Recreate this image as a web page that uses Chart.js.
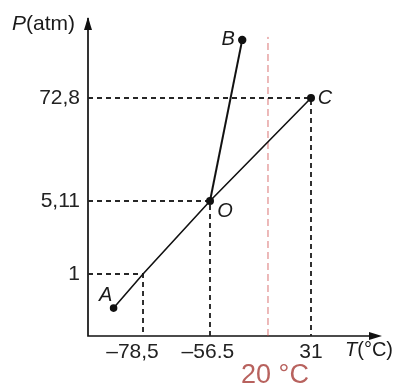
<!DOCTYPE html>
<html>
<head>
<meta charset="utf-8">
<title>Diagramme de phase du CO2</title>
<script src="https://cdn.jsdelivr.net/npm/chart.js@4/dist/chart.umd.min.js"></script>
<style>
	html, body { margin: 0; padding: 0; background: #fff; }
	#wrap { width: 397px; height: 387px; }
</style>
</head>
<body>
<div id="wrap"><canvas id="phase"></canvas></div>
<script>
'use strict';

// A, point triple O, point critique C, B sur la courbe de fusion
const pointNames = ['A', 'O', 'C', 'B'];
const pointTemps = [-90, -56.5, 31, -14];
const pointPress = [0.45, 5.11, 72.8, 170];

// valeurs marquées sur les axes
const tempTicks = [-78.5, -56.5, 31];
const tempLabels = ['–78,5', '–56.5', '31'];
const pressTicks = [1, 5.11, 72.8];
const pressLabels = ['1', '5,11', '72,8'];

// ligne des 20 °C
const roomTemp = 20;
const roomTop = 175;

const xMin = -100, xMax = 70;
const yMin = 0, yMax = 200;

// axes pas à l'échelle : valeur -> fraction de la longueur, linéaire entre les cassures
const axisBreaks = {
	x: [[xMin, 0], [-78.5, 0.1884], [-56.5, 0.4178], [20, 0.6164], [31, 0.7637], [xMax, 1]],
	y: [[yMin, 0], [1, 0.1975], [5.11, 0.430], [72.8, 0.758], [yMax, 1]]
};

function interp(list, v, from, to){
	for(let i = 1; i < list.length; i++){
		if(v <= list[i][from] || i == list.length - 1){
			let a = list[i - 1], b = list[i];
			return a[to] + (v - a[from]) / (b[from] - a[from]) * (b[to] - a[to]);
		}
	}
}

class BrokenScale extends Chart.LinearScale{
	getPixelForValue(value){
		return this.getPixelForDecimal(interp(axisBreaks[this.id], value, 0, 1));
	}
	getValueForPixel(pixel){
		return interp(axisBreaks[this.id], this.getDecimalForPixel(pixel), 1, 0);
	}
}
BrokenScale.id = 'broken';
BrokenScale.defaults = Chart.LinearScale.defaults;
Chart.register(BrokenScale);

function pt(i){
	return {x: pointTemps[i], y: pointPress[i]};
}

// pointillés vers les axes
let guides = tempTicks.map((t, i) => ({
	data: [{x: xMin, y: pressTicks[i]}, {x: t, y: pressTicks[i]}, {x: t, y: yMin}],
	borderColor: '#262626',
	borderWidth: 1.9,
	borderDash: [5, 4],
	pointRadius: 0
}));

let datasets = [
	{
		// sublimation puis vaporisation : A -> O -> C
		data: [pt(0), {x: tempTicks[0], y: pressTicks[0]}, pt(1), pt(2)],
		borderColor: '#111',
		backgroundColor: '#111',
		borderWidth: 1.6,
		pointRadius: [3, 0, 3.2, 3.2]
	},
	{
		// fusion : O -> B
		data: [pt(1), pt(3)],
		borderColor: '#111',
		backgroundColor: '#111',
		borderWidth: 2,
		pointRadius: [0, 3.2]
	},
	...guides,
	{
		data: [{x: roomTemp, y: yMin}, {x: roomTemp, y: roomTop}],
		borderColor: 'rgba(205, 70, 70, 0.75)',
		borderWidth: 1,
		borderDash: [7, 4],
		pointRadius: 0
	}
];

function arrow(ctx, x, y, dx, dy){
	let len = 13, half = 4;
	ctx.beginPath();
	ctx.moveTo(x, y);
	ctx.lineTo(x - dx * len - dy * half, y - dy * len + dx * half);
	ctx.lineTo(x - dx * len + dy * half, y - dy * len - dx * half);
	ctx.closePath();
	ctx.fill();
}

const labelOffsets = [[-8, -13], [15, 10], [14, 0], [-14, 0]];

const decorations = {
	id: 'decorations',
	beforeDatasetsDraw(chart){
		let ctx = chart.ctx, area = chart.chartArea;
		ctx.save();
		ctx.strokeStyle = '#111';
		ctx.fillStyle = '#111';
		ctx.lineWidth = 1.7;
		ctx.beginPath();
		ctx.moveTo(area.left, area.top - 4);
		ctx.lineTo(area.left, area.bottom);
		ctx.lineTo(area.right - 4, area.bottom);
		ctx.stroke();
		arrow(ctx, area.left, area.top - 5, 0, -1);
		arrow(ctx, area.right + 2, area.bottom, 1, 0);
		ctx.restore();
	},
	afterDraw(chart){
		let ctx = chart.ctx, area = chart.chartArea;
		let xs = chart.scales.x, ys = chart.scales.y;
		ctx.save();
		ctx.fillStyle = '#1a1a1a';
		ctx.textBaseline = 'middle';

		// noms des points
		ctx.font = 'italic 20px "Liberation Sans"';
		ctx.textAlign = 'center';
		for(let i = 0; i < pointNames.length; i++){
			let px = xs.getPixelForValue(pointTemps[i]) + labelOffsets[i][0];
			let py = ys.getPixelForValue(pointPress[i]) + labelOffsets[i][1];
			ctx.fillText(pointNames[i], px, py);
		}

		// titres des axes
		ctx.textAlign = 'left';
		let x = area.left - 76;
		ctx.font = 'italic 21px "Liberation Sans"';
		ctx.fillText('P', x, area.top + 2);
		x += ctx.measureText('P').width;
		ctx.font = '21px "Liberation Sans"';
		ctx.fillText('(atm)', x, area.top + 2);

		x = area.right - 35;
		ctx.font = 'italic 20px "Liberation Sans"';
		ctx.fillText('T', x, area.bottom + 14);
		x += ctx.measureText('T').width;
		ctx.font = '20px "Liberation Sans"';
		ctx.fillText('(°C)', x, area.bottom + 14);

		// 20 °C
		ctx.fillStyle = '#b8625e';
		ctx.textAlign = 'center';
		ctx.font = '27px "Liberation Sans"';
		ctx.fillText(roomTemp + ' °C', xs.getPixelForValue(roomTemp) + 7, area.bottom + 40);
		ctx.restore();
	}
};

// le signe moins déborde à gauche de la graduation
const tickShift = ['\u2002\u2002', '\u2009', ''];

new Chart(document.getElementById('phase'), {
	type: 'line',
	data: {datasets: datasets},
	plugins: [decorations],
	options: {
		responsive: true,
		maintainAspectRatio: false,
		animation: false,
		layout: {padding: {top: 22, right: 17, bottom: 0, left: 0}},
		plugins: {legend: {display: false}, tooltip: {enabled: false}},
		elements: {line: {tension: 0}},
		scales: {
			x: {
				type: 'broken',
				min: xMin,
				max: xMax,
				grid: {display: false, drawTicks: false},
				border: {display: false},
				afterBuildTicks: (scale) => { scale.ticks = tempTicks.map(v => ({value: v})); },
				afterFit: (scale) => { scale.height = 51; scale.paddingLeft = 0; scale.paddingRight = 0; },
				ticks: {
					autoSkip: false, maxRotation: 0, padding: 4, color: '#222',
					font: {family: 'Liberation Sans', size: 21},
					callback: (v, i) => tempLabels[i] + tickShift[i]
				}
			},
			y: {
				type: 'broken',
				min: yMin,
				max: yMax,
				grid: {display: false, drawTicks: false},
				border: {display: false},
				afterBuildTicks: (scale) => { scale.ticks = pressTicks.map(v => ({value: v})); },
				afterFit: (scale) => { scale.width = 88; scale.paddingTop = 0; scale.paddingBottom = 0; },
				ticks: {
					autoSkip: false, padding: 8, color: '#222',
					font: {family: 'Liberation Sans', size: 21},
					callback: (v, i) => pressLabels[i]
				}
			}
		}
	}
});
</script>
</body>
</html>
